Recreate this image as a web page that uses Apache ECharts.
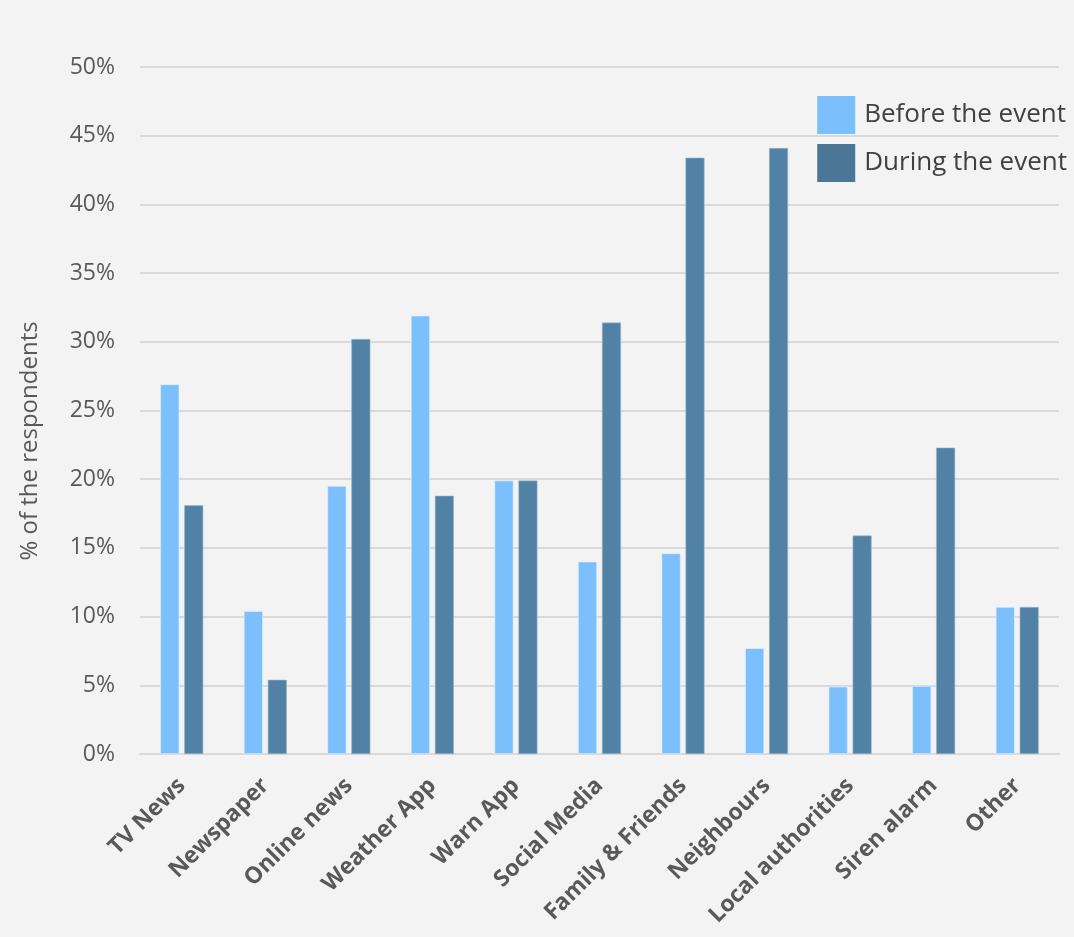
<!DOCTYPE html>
<html>
<head>
<meta charset="utf-8">
<script src="https://cdn.jsdelivr.net/npm/echarts@6/dist/echarts.min.js"></script>
<style>
  html, body { margin: 0; padding: 0; background: #f3f3f3; }
  #main { width: 1074px; height: 937px; }
</style>
</head>
<body>
<div id="main"></div>
<script>
"use strict";

// categories and values (% of respondents)
const categories = ['TV News', 'Newspaper', 'Online news', 'Weather App', 'Warn App', 'Social Media',
  'Family & Friends', 'Neighbours', 'Local authorities', 'Siren alarm', 'Other'];
const beforeEvent = [26.9, 10.4, 19.5, 31.9, 19.9, 14.0, 14.6, 7.7, 4.9, 4.95, 10.7];
const duringEvent = [18.1, 5.4, 30.2, 18.8, 19.9, 31.4, 43.4, 44.1, 15.9, 22.3, 10.7];
const seriesNames = ['Before the event', 'During the event'];

let chart = echarts.init(document.getElementById('main'));

let font = '"Open Sans", "Liberation Sans", sans-serif';

let option = {
  backgroundColor: '#f3f3f3',
  textStyle: { fontFamily: font },
  legend: { // 图例
    orient: 'vertical',
    right: 7,
    top: 96,
    padding: 0,
    itemWidth: 38,
    itemHeight: 38,
    itemGap: 10,
    icon: 'rect',
    itemStyle: { borderWidth: 0 },
    textStyle: { fontSize: 26, color: '#404040', fontFamily: font, padding: [0, 0, 0, 4] },
    data: [
      { name: seriesNames[0], itemStyle: { color: '#7cbffd', borderWidth: 0 } },
      { name: seriesNames[1], itemStyle: { color: '#4b7695', borderWidth: 0 } },
    ],
  },
  grid: {
    left: 140,
    right: 15,
    top: 67,
    bottom: 183,
  },
  graphic: [
    {
      type: 'text',
      x: 30,
      y: 441,
      rotation: Math.PI / 2,
      style: {
        text: '% of the respondents',
        fontSize: 24,
        fontFamily: font,
        fill: '#595959',
        align: 'center',
        verticalAlign: 'middle',
      },
    },
  ],
  xAxis: {
    type: 'category',
    data: categories,
    axisTick: { show: false },
    axisLine: { lineStyle: { color: '#d9d9d9', width: 2 } },
    axisLabel: {
      rotate: 45,
      interval: 0,
      margin: 28,
      fontSize: 23,
      fontWeight: 'bold',
      color: '#595959',
      fontFamily: font,
    },
  },
  yAxis: {
    type: 'value',
    min: 0,
    max: 50,
    interval: 5,
    axisLine: { show: false },
    axisTick: { show: false },
    splitLine: { lineStyle: { color: '#d9d9d9', width: 2 } },
    axisLabel: {
      margin: 25,
      fontSize: 23,
      color: '#595959',
      fontFamily: font,
      formatter: '{value}%',
    },
  },
  series: [
    {
      name: seriesNames[0],
      type: 'bar',
      data: beforeEvent,
      barWidth: 19,
      barGap: '26%',
      itemStyle: { color: '#7cbffd', borderColor: '#e6f2ff', borderWidth: 0.6 },
    },
    {
      name: seriesNames[1],
      type: 'bar',
      data: duringEvent,
      barWidth: 19,
      itemStyle: { color: '#5182a5', borderColor: '#9bb8cf', borderWidth: 0.6 },
    },
  ],
};

chart.setOption(option);
</script>
</body>
</html>
